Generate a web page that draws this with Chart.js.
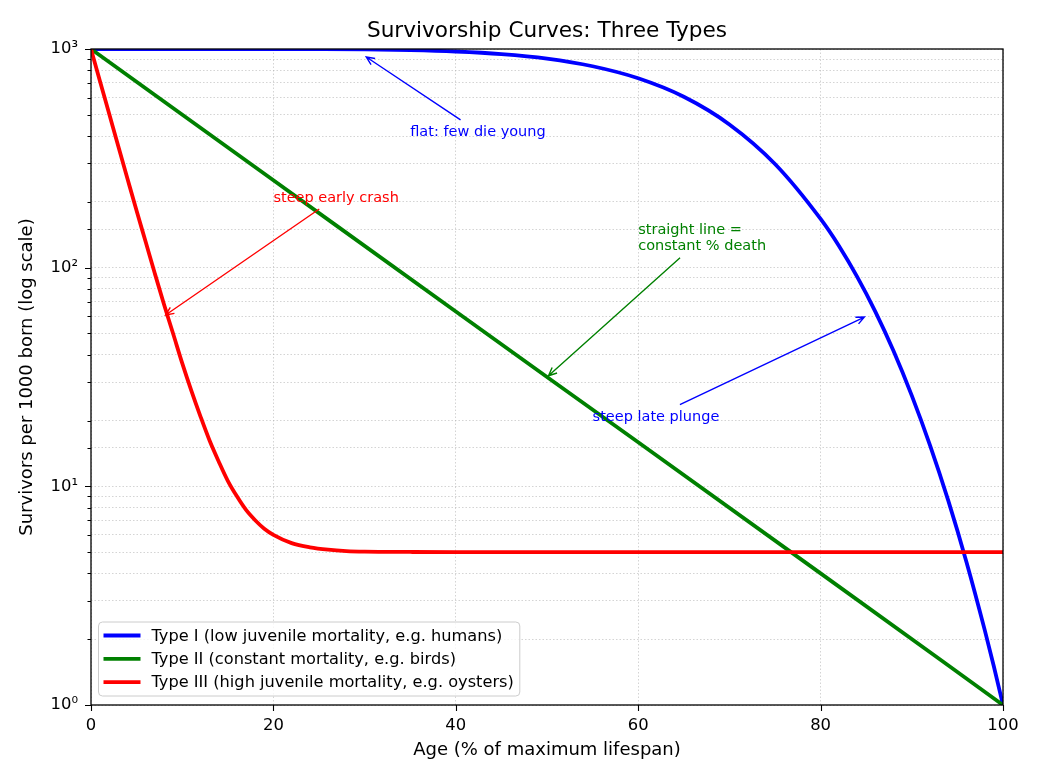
<!DOCTYPE html>
<html>
<head>
<meta charset="utf-8">
<title>Survivorship Curves</title>
<script src="https://cdn.jsdelivr.net/npm/chart.js@4.4.1/dist/chart.umd.min.js"></script>
<style>
  body { margin: 0; background: #fff; }
  #wrap { width: 1040px; height: 780px; }
</style>
</head>
<body>
<div id="wrap"><canvas id="myChart" width="1040" height="780"></canvas></div>
<script>
const chartTitle = 'Survivorship Curves: Three Types';
const xTitle = 'Age (% of maximum lifespan)';
const yTitle = 'Survivors per 1000 born (log scale)';

const seriesNames = [
  'Type I (low juvenile mortality, e.g. humans)',
  'Type II (constant mortality, e.g. birds)',
  'Type III (high juvenile mortality, e.g. oysters)'
];
const seriesColors = ['#0000ff', '#008000', '#ff0000'];

const typeOneAge = [0, 10, 20, 25, 30, 35, 40, 45, 50, 55, 60, 65, 70, 75, 80, 82, 84, 86, 88, 90, 92, 94, 96, 98, 99, 100];
const typeOneSurv = [1000, 1000, 999.6, 998.5, 995.5, 988.5, 974, 948, 904, 834, 735, 605, 452, 298, 167, 126, 91, 63, 41.6, 26, 15.4, 8.6, 4.5, 2.2, 1.5, 1];

const typeTwoAge = [0, 20, 40, 60, 80, 100];
const typeTwoSurv = [1000, 251, 63, 15.9, 4, 1];

const typeThreeAge = [0, 1, 2, 3, 4, 5, 6, 7, 8, 9, 10, 11, 12, 13, 14, 15, 16, 17, 18, 19, 20, 22, 24, 26, 28, 30, 35, 40, 50, 60, 70, 80, 90, 100];
const typeThreeSurv = [1000, 709, 504, 358, 255, 182, 131, 94, 68, 50, 36.6, 27.4, 20.9, 16.2, 13, 10.6, 9.0, 7.8, 7.0, 6.4, 6.0, 5.5, 5.26, 5.13, 5.06, 5.03, 5.01, 5, 5, 5, 5, 5, 5, 5];

const xTickValues = [0, 20, 40, 60, 80, 100];
const yMajorValues = [1, 10, 100, 1000];
const yMajorLabels = ['10\u2070', '10\u00b9', '10\u00b2', '10\u00b3'];

// annotations: arrow target and text anchor in data units
const notes = [
  { text: ['flat: few die young'], color: '#0000ff', at: [30, 930], textAt: [35, 400] },
  { text: ['steep early crash'], color: '#ff0000', at: [8, 60], textAt: [20, 200] },
  { text: ['straight line =', 'constant % death'], color: '#008000', at: [50, 31.6], textAt: [60, 120] },
  { text: ['steep late plunge'], color: '#0000ff', at: [85, 60], textAt: [55, 20] }
];

const toPoints = (ages, vals) => ages.map((a, i) => ({ x: a, y: vals[i] }));
const seriesData = [
  toPoints(typeOneAge, typeOneSurv),
  toPoints(typeTwoAge, typeTwoSurv),
  toPoints(typeThreeAge, typeThreeSurv)
];

const FONT = '"DejaVu Sans", sans-serif';

const drawArrow = (ctx, sx, sy, tx, ty, color) => {
  const ang = Math.atan2(ty - sy, tx - sx);
  const ex = tx - 2 * Math.cos(ang), ey = ty - 2 * Math.sin(ang);
  ctx.strokeStyle = color;
  ctx.lineWidth = 1.4;
  ctx.beginPath();
  ctx.moveTo(sx, sy);
  ctx.lineTo(ex, ey);
  const hl = 9, spread = 0.42;
  ctx.moveTo(ex - hl * Math.cos(ang - spread), ey - hl * Math.sin(ang - spread));
  ctx.lineTo(ex, ey);
  ctx.lineTo(ex - hl * Math.cos(ang + spread), ey - hl * Math.sin(ang + spread));
  ctx.stroke();
};

const extras = {
  id: 'extras',
  afterDatasetsDraw(chart) {
    const { ctx, scales: { x, y } } = chart;
    ctx.save();
    ctx.font = '14.5px ' + FONT;
    ctx.textAlign = 'left';
    ctx.textBaseline = 'alphabetic';
    notes.forEach(n => {
      const px = x.getPixelForValue(n.textAt[0]);
      const lastBase = y.getPixelForValue(n.textAt[1]);
      const lh = 16;
      const firstBase = lastBase - lh * (n.text.length - 1);
      const w = Math.max(...n.text.map(t => ctx.measureText(t).width));
      ctx.fillStyle = n.color;
      n.text.forEach((t, i) => ctx.fillText(t, px, firstBase + i * lh));
      // box round the text, arrow leaves from its edge
      const left = px - 3, right = px + w + 3;
      const top = firstBase - 15, bottom = lastBase + 6;
      const cx = (left + right) / 2, cy = (top + bottom) / 2;
      const tx = x.getPixelForValue(n.at[0]), ty = y.getPixelForValue(n.at[1]);
      const dx = tx - cx, dy = ty - cy;
      const t1 = dx === 0 ? Infinity : (dx > 0 ? right - cx : cx - left) / Math.abs(dx);
      const t2 = dy === 0 ? Infinity : (dy > 0 ? bottom - cy : cy - top) / Math.abs(dy);
      const t = Math.min(t1, t2);
      const len = Math.hypot(dx, dy);
      const sx = cx + dx * t + 2 * dx / len, sy = cy + dy * t + 2 * dy / len;
      drawArrow(ctx, sx, sy, tx, ty, n.color);
    });
    ctx.restore();
  },
  afterDraw(chart) {
    const { ctx, chartArea: a, scales: { x, y } } = chart;
    ctx.save();
    // title
    ctx.fillStyle = '#000';
    ctx.font = '21.6px ' + FONT;
    ctx.textAlign = 'center';
    ctx.textBaseline = 'middle';
    ctx.fillText(chartTitle, (a.left + a.right) / 2, 31);

    // frame
    ctx.strokeStyle = '#000';
    ctx.lineWidth = 1.3;
    ctx.strokeRect(a.left, a.top, a.right - a.left, a.bottom - a.top);

    // ticks, outward
    ctx.beginPath();
    y.ticks.forEach(tk => {
      const py = Math.round(y.getPixelForValue(tk.value)) + 0.5;
      const major = yMajorValues.includes(tk.value);
      ctx.moveTo(a.left, py);
      ctx.lineTo(a.left - (major ? 6 : 3.5), py);
    });
    x.ticks.forEach(tk => {
      const px = Math.round(x.getPixelForValue(tk.value)) + 0.5;
      ctx.moveTo(px, a.bottom);
      ctx.lineTo(px, a.bottom + 6);
    });
    ctx.lineWidth = 1.1;
    ctx.stroke();

    // legend, lower left inside the axes
    ctx.font = '16.2px ' + FONT;
    const textW = Math.max(...seriesNames.map(s => ctx.measureText(s).width));
    const bw = 53 + textW + 6, bh = 74;
    const bx = a.left + 7.5, by = a.bottom - 9 - bh;
    ctx.beginPath();
    ctx.roundRect(bx, by, bw, bh, 4);
    ctx.fillStyle = 'rgba(255,255,255,0.8)';
    ctx.fill();
    ctx.strokeStyle = '#cccccc';
    ctx.lineWidth = 1;
    ctx.stroke();
    ctx.textAlign = 'left';
    ctx.textBaseline = 'middle';
    seriesNames.forEach((s, i) => {
      const ry = by + 13.5 + i * 23.3;
      ctx.strokeStyle = seriesColors[i];
      ctx.lineWidth = 3.8;
      ctx.beginPath();
      ctx.moveTo(bx + 5, ry);
      ctx.lineTo(bx + 42, ry);
      ctx.stroke();
      ctx.fillStyle = '#000';
      ctx.fillText(s, bx + 53, ry + 1);
    });
    ctx.restore();
  }
};

const ctx = document.getElementById('myChart');
new Chart(ctx, {
  type: 'line',
  data: {
    datasets: seriesData.map((d, i) => ({
      label: seriesNames[i],
      data: d,
      borderColor: seriesColors[i],
      backgroundColor: seriesColors[i],
      borderWidth: 3.8,
      pointRadius: 0,
      fill: false,
      cubicInterpolationMode: 'monotone',
      clip: 0,
      order: 3 - i
    }))
  },
  options: {
    responsive: false,
    animation: false,
    devicePixelRatio: 1,
    layout: { padding: { left: 0, right: 37, top: 49, bottom: 0 } },
    plugins: {
      legend: { display: false },
      title: { display: false },
      tooltip: { enabled: false }
    },
    scales: {
      x: {
        type: 'linear',
        min: 0,
        max: 100,
        afterFit: s => { s.height = 75; },
        afterBuildTicks: s => { s.ticks = xTickValues.map(v => ({ value: v })); },
        ticks: { color: '#000', font: { family: FONT, size: 16.4 }, padding: 11, maxRotation: 0 },
        grid: { color: 'rgba(176,176,176,0.55)', lineWidth: 1, drawTicks: false },
        border: { display: false, dash: [1.5, 2] },
        title: { display: true, text: xTitle, color: '#000', font: { family: FONT, size: 18 }, padding: { top: 0, bottom: 19 } }
      },
      y: {
        type: 'logarithmic',
        min: 1,
        max: 1000,
        afterFit: s => { s.width = 91; },
        ticks: {
          color: '#000',
          font: { family: FONT, size: 16.4 },
          padding: 13,
          autoSkip: false,
          callback: v => {
            const k = yMajorValues.indexOf(v);
            return k >= 0 ? yMajorLabels[k] : '';
          }
        },
        grid: { color: 'rgba(176,176,176,0.55)', lineWidth: 1, drawTicks: false },
        border: { display: false, dash: [1.5, 2] },
        title: { display: true, text: yTitle, color: '#000', font: { family: FONT, size: 18 }, padding: { top: 17, bottom: 0 } }
      }
    }
  },
  plugins: [extras]
});
</script>
</body>
</html>
